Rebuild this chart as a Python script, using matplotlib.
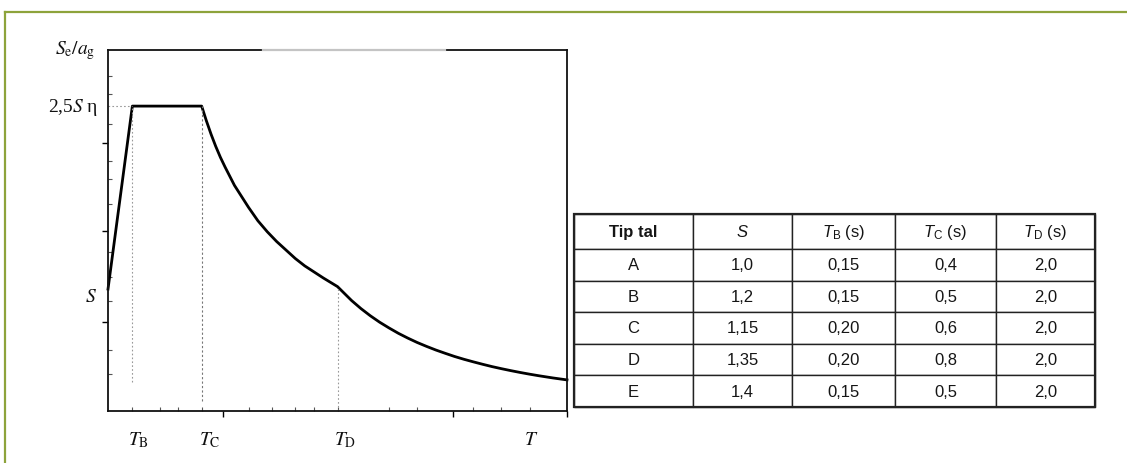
import matplotlib
matplotlib.use("Agg")
from matplotlib import pyplot as plt
from matplotlib.lines import Line2D
from matplotlib.patches import Rectangle

plt.rcParams['font.family'] = ['Liberation Serif', 'DejaVu Serif']
plt.rcParams['mathtext.fontset'] = 'stix'
plt.rcParams['mathtext.rm'] = 'Liberation Sans'
plt.rcParams['mathtext.it'] = 'Liberation Sans:italic'
plt.rcParams['mathtext.bf'] = 'Liberation Sans:bold'

# spectrum shape (T in plot units, Se/ag in units of S)
T_B = 0.26
T_C = 1.0
T_D = 2.45
T_END = 4.9
T_pts = [0.0, 0.26, 1.0, 1.05, 1.1, 1.15, 1.2, 1.25, 1.35, 1.4, 1.5, 1.6, 1.7, 1.8,
         1.9, 2.0, 2.1, 2.2, 2.3, 2.45, 2.6, 2.7, 2.8, 2.9, 3.0, 3.1, 3.2, 3.3,
         3.4, 3.5, 3.6, 3.7, 3.8, 3.9, 4.0, 4.1, 4.2, 4.3, 4.4, 4.5, 4.6, 4.75, 4.9]
Se_pts = [1.0, 2.5, 2.5, 2.38, 2.27, 2.17, 2.08, 2.0, 1.85, 1.79, 1.67, 1.56, 1.47, 1.39,
          1.32, 1.25, 1.19, 1.14, 1.09, 1.02, 0.906, 0.840, 0.781, 0.728, 0.681, 0.637, 0.598, 0.562,
          0.530, 0.500, 0.473, 0.447, 0.424, 0.403, 0.383, 0.364, 0.347, 0.331, 0.316, 0.302, 0.289, 0.271, 0.255]
plateau = 2.5
y_top = 2.96

# ground type table
headers = ["Tip tal", "$S$", r"$T_\mathrm{B}$ (s)", r"$T_\mathrm{C}$ (s)", r"$T_\mathrm{D}$ (s)"]
ground = ["A", "B", "C", "D", "E"]
S_vals = ["1,0", "1,2", "1,15", "1,35", "1,4"]
TB_vals = ["0,15", "0,15", "0,20", "0,20", "0,15"]
TC_vals = ["0,4", "0,5", "0,6", "0,8", "0,5"]
TD_vals = ["2,0", "2,0", "2,0", "2,0", "2,0"]

W, H = 1127, 464
fig = plt.figure(figsize=(W / 100, H / 100), dpi=100)

# green frame (top and left)
green = '#8da33b'
fig.add_artist(Line2D([5 / W, 1], [1 - 12.5 / H, 1 - 12.5 / H], color=green, lw=1.6, transform=fig.transFigure))
fig.add_artist(Line2D([5 / W, 5 / W], [0, 1 - 12.5 / H], color=green, lw=1.6, transform=fig.transFigure))

# spectrum axes
ax = fig.add_axes([108 / W, (H - 412) / H, (567 - 108) / W, (412 - 51) / H])
ax.set_xlim(0, T_END)
ax.set_ylim(0, y_top)
ax.plot(T_pts, Se_pts, color='black', lw=2.0, solid_joinstyle='round', clip_on=False)

guide = dict(color='#999999', lw=0.8, ls=(0, (1.5, 2)))
ax.plot([0, T_B], [plateau, plateau], **guide)
ax.plot([T_B, T_B], [0.24, plateau], **guide)
ax.plot([T_C, T_C], [0.08, plateau], color='#777777', lw=0.8, ls=(0, (2, 2)))
ax.plot([T_D, T_D], [0.0, 1.02], **guide)

for sp in ax.spines.values():
    sp.set_linewidth(1.3)
    sp.set_color('#111111')
ax.plot([1.65, 3.6], [y_top, y_top], color='#c4c4c4', lw=1.6, clip_on=False, zorder=5)

ax.set_xticks([1.23, 3.68, T_END])
ax.set_xticks([0.26, 0.55, 0.75, 1.0, 1.5, 1.75, 2.0, 2.2, 2.45, 3.0, 3.3, 3.9, 4.2, 4.5], minor=True)
ax.set_yticks([0.73, 1.48, 2.2])
ax.set_yticks([0.3, 0.5, 0.9, 1.1, 1.3, 1.7, 1.9, 2.05, 2.35, 2.6, 2.75], minor=True)
ax.tick_params(axis='both', which='major', direction='out', length=4, width=1.0, labelbottom=False, labelleft=False)
ax.tick_params(axis='both', which='minor', direction='in', length=3, width=0.8, color='#555555')

lab = dict(fontsize=14, color='#111111')
xt = ax.get_xaxis_transform()
ax.text(0.33, -0.078, r"$T_\mathrm{B}$", transform=xt, ha='center', va='center', **lab)
ax.text(1.09, -0.078, r"$T_\mathrm{C}$", transform=xt, ha='center', va='center', **lab)
ax.text(2.53, -0.078, r"$T_\mathrm{D}$", transform=xt, ha='center', va='center', **lab)
ax.text(4.52, -0.078, r"$T$", transform=xt, ha='center', va='center', **lab)
yt = ax.get_yaxis_transform()
ax.text(-0.028, y_top, r"$S_\mathrm{e}/a_\mathrm{g}$", transform=yt, ha='right', va='center', **lab)
ax.text(-0.022, plateau, "2,5$S$ η", transform=yt, ha='right', va='center', **lab)
ax.text(-0.025, 0.94, "$S$", transform=yt, ha='right', va='center', **lab)

# table
tab = fig.add_axes([574 / W, (H - 408) / H, (1095 - 574) / W, (408 - 215) / H])
tab.axis('off')
col_w = [119, 99, 103, 101, 99]
rows = [list(r) for r in zip(ground, S_vals, TB_vals, TC_vals, TD_vals)]
tbl = tab.table(cellText=rows, colLabels=headers, colWidths=[w / sum(col_w) for w in col_w],
                cellLoc='center', bbox=[0, 0, 1, 1])
tbl.auto_set_font_size(False)
for (r, c), cell in tbl.get_celld().items():
    cell.set_height(35 if r == 0 else 31.6)
    cell.set_linewidth(1.0)
    cell.set_edgecolor('#222222')
    t = cell.get_text()
    t.set_fontfamily(['Liberation Sans', 'DejaVu Sans'])
    t.set_math_fontfamily('custom')
    t.set_fontsize(12)
    t.set_color('#151515')
    if r == 0 and c == 0:
        t.set_fontweight('bold')
tab.add_patch(Rectangle((0, 0), 1, 1, fill=False, lw=1.6, edgecolor='#222222', transform=tab.transAxes, clip_on=False))

fig.savefig("out.png", dpi=100)
